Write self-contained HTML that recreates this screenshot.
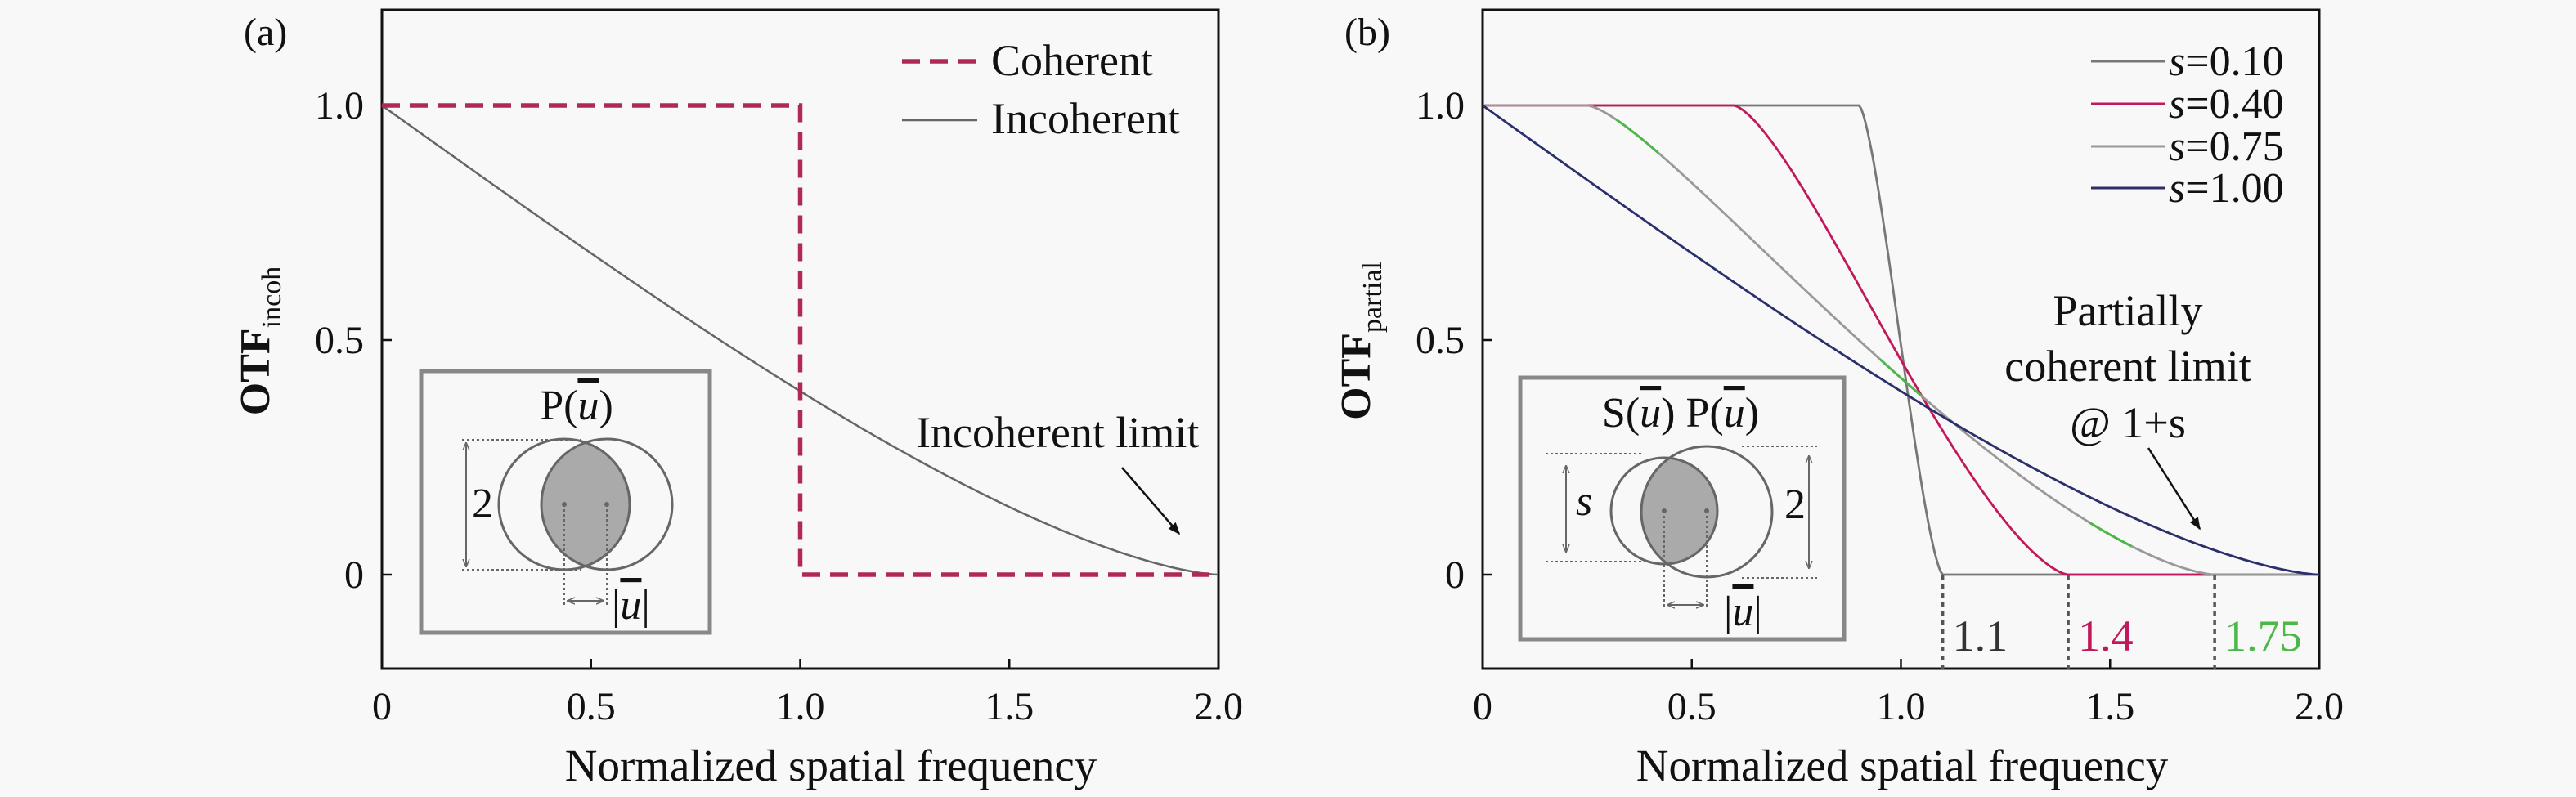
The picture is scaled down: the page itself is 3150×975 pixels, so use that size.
<!DOCTYPE html>
<html><head><meta charset="utf-8"><style>
html,body{margin:0;padding:0;background:#f8f8f8}
svg{display:block}
text{font-family:"Liberation Serif",serif;fill:#111}
</style></head><body>
<svg id="s" width="3150" height="975" viewBox="0 0 3150 975" xmlns="http://www.w3.org/2000/svg">
<defs>
<marker id="ah" viewBox="0 0 10 10" refX="9" refY="5" markerWidth="6" markerHeight="6" orient="auto"><path d="M0,1 L10,5 L0,9 z" fill="#111"/></marker>
<marker id="ga" viewBox="0 0 10 10" refX="9" refY="5" markerWidth="5" markerHeight="5" orient="auto-start-reverse"><path d="M0,1 L10,5 L0,9" fill="none" stroke="#666" stroke-width="1.5"/></marker>
</defs>
<rect width="3150" height="975" fill="#f8f8f8"/>
<g id="g"></g>
</svg>
<script>
const g=document.getElementById('g');let h='';
const Y=v=>703-574*v;
const U='<tspan font-style="italic" text-decoration="overline">u</tspan>';
function clipArea(r1,r2,d){
 if(d>=r1+r2)return 0;
 if(d<=Math.abs(r1-r2))return Math.PI*Math.min(r1,r2)**2;
 const a=r1*r1*Math.acos((d*d+r1*r1-r2*r2)/(2*d*r1));
 const b=r2*r2*Math.acos((d*d+r2*r2-r1*r1)/(2*d*r2));
 const c=0.5*Math.sqrt((-d+r1+r2)*(d+r1-r2)*(d-r1+r2)*(d+r1+r2));
 return a+b-c;}
function otf(s,f){return clipArea(s,1,f)/(Math.PI*s*s);}
function axes(x0,lab,sub,xl){
 const X=v=>x0+511.5*v;
 h+=`<rect x="${x0}" y="12" width="1023" height="806" fill="none" stroke="#111" stroke-width="3"/>`;
 [0,0.5,1,1.5,2].forEach(v=>{h+=`<line x1="${X(v)}" y1="818" x2="${X(v)}" y2="806" stroke="#111" stroke-width="2.5"/>`;
  h+=`<text x="${X(v)}" y="880" font-size="48" text-anchor="middle">${v==0?'0':v.toFixed(1)}</text>`;});
 [[0,'0'],[0.5,'0.5'],[1,'1.0']].forEach(([v,t])=>{h+=`<line x1="${x0}" y1="${Y(v)}" x2="${x0+12}" y2="${Y(v)}" stroke="#111" stroke-width="2.5"/>`;
  h+=`<text x="${x0-22}" y="${Y(v)+16}" font-size="48" text-anchor="end">${t}</text>`;});
 h+=`<text x="${xl}" y="955" font-size="55" text-anchor="middle">Normalized spatial frequency</text>`;
 h+=`<text transform="translate(${x0-138},417) rotate(-90)" font-size="52" text-anchor="middle" font-weight="bold">OTF<tspan font-size="34" dy="14" font-weight="normal">${sub}</tspan></text>`;
 h+=`<text x="${x0-169}" y="55" font-size="48">${lab}</text>`;
 return X;}
function curve(X,fn,a,b,col,w,extra=''){let p=[];for(let i=0;i<=400;i++){const f=a+(b-a)*i/400;p.push(X(f).toFixed(1)+','+Y(fn(f)).toFixed(1));}
 h+=`<polyline points="${p.join(' ')}" fill="none" stroke="${col}" stroke-width="${w}" ${extra}/>`;}
// Panel a
let X=axes(467,'(a)','incoh',1016);
curve(X,f=>otf(1,f),0,2,'#666',2.5);
h+=`<polyline points="${X(0)},${Y(1)} ${X(1)},${Y(1)} ${X(1)},${Y(0)} ${X(2)},${Y(0)}" fill="none" stroke="#b02858" stroke-width="5.5" stroke-dasharray="22,12"/>`;
h+=`<line x1="1103" y1="75" x2="1195" y2="75" stroke="#b02858" stroke-width="5.5" stroke-dasharray="22,12"/><text x="1212" y="92" font-size="54">Coherent</text>`;
h+=`<line x1="1103" y1="147" x2="1195" y2="147" stroke="#666" stroke-width="2.5"/><text x="1212" y="163" font-size="54">Incoherent</text>`;
h+=`<text x="1120" y="547" font-size="54">Incoherent limit</text><line x1="1372" y1="572" x2="1442" y2="653" stroke="#111" stroke-width="2.5" marker-end="url(#ah)"/>`;
// inset a
h+=`<rect x="515" y="454" width="353" height="320" fill="#f8f8f8" stroke="#888" stroke-width="5"/>`;
h+=`<clipPath id="c1"><circle cx="690" cy="617" r="80"/></clipPath><circle cx="742" cy="617" r="80" fill="#aaa" clip-path="url(#c1)"/>`;
h+=`<circle cx="690" cy="617" r="80" fill="none" stroke="#666" stroke-width="3"/><circle cx="742" cy="617" r="80" fill="none" stroke="#666" stroke-width="3"/>`;
h+=`<circle cx="690" cy="617" r="3" fill="#666"/><circle cx="742" cy="617" r="3" fill="#666"/>`;
h+=`<g stroke="#666" stroke-width="2" stroke-dasharray="3,3"><line x1="565" y1="538" x2="710" y2="538"/><line x1="565" y1="697" x2="710" y2="697"/><line x1="690" y1="617" x2="690" y2="740"/><line x1="742" y1="617" x2="742" y2="740"/></g>`;
h+=`<line x1="570" y1="542" x2="570" y2="693" stroke="#666" stroke-width="2" marker-start="url(#ga)" marker-end="url(#ga)"/>`;
h+=`<line x1="694" y1="735" x2="738" y2="735" stroke="#666" stroke-width="2" marker-start="url(#ga)" marker-end="url(#ga)"/>`;
h+=`<text x="577" y="633" font-size="52">2</text><text x="705" y="513" font-size="52" text-anchor="middle">P(${U})</text>`;
h+=`<text x="748" y="757" font-size="52">|${U}|</text>`;
// Panel b
X=axes(1813,'(b)','partial',2326);
const S=[[0.10,'#777'],[0.40,'#c2185b'],[0.75,'#999'],[1.00,'#2b2f6b']];
S.forEach(([s,c])=>curve(X,f=>otf(s,f),0,2,c,2.8));
[[0.32,0.42],[0.95,1.05],[1.45,1.55]].forEach(([a,b])=>curve(X,f=>otf(0.75,f),a,b,'#4cb848',2.8));
S.forEach(([s,c],i)=>{const y=[75,127,179,230][i];h+=`<line x1="2557" y1="${y}" x2="2647" y2="${y}" stroke="${c}" stroke-width="3"/><text x="2652" y="${y+17}" font-size="52"><tspan font-style="italic">s</tspan>=${s.toFixed(2)}</text>`;});
h+=`<text x="2602" y="398" font-size="54" text-anchor="middle">Partially</text><text x="2602" y="466" font-size="54" text-anchor="middle">coherent limit</text><text x="2602" y="535" font-size="54" text-anchor="middle">@ 1+s</text>`;
h+=`<line x1="2627" y1="548" x2="2690" y2="647" stroke="#111" stroke-width="2.5" marker-end="url(#ah)"/>`;
[[1.1,'#333'],[1.4,'#c2185b'],[1.75,'#4cb848']].forEach(([f,c])=>{h+=`<line x1="${X(f)}" y1="703" x2="${X(f)}" y2="818" stroke="#555" stroke-width="3.5" stroke-dasharray="6,5"/><text x="${X(f)+12}" y="796" font-size="54" style="fill:${c}">${f}</text>`;});
// inset b
h+=`<rect x="1859" y="462" width="396" height="320" fill="#f8f8f8" stroke="#888" stroke-width="5"/>`;
h+=`<clipPath id="c2"><circle cx="2035" cy="625" r="65"/></clipPath><circle cx="2087" cy="626" r="80" fill="#aaa" clip-path="url(#c2)"/>`;
h+=`<circle cx="2035" cy="625" r="65" fill="none" stroke="#666" stroke-width="3"/><circle cx="2087" cy="626" r="80" fill="none" stroke="#666" stroke-width="3"/>`;
h+=`<circle cx="2035" cy="625" r="3" fill="#666"/><circle cx="2087" cy="625" r="3" fill="#666"/>`;
h+=`<g stroke="#666" stroke-width="2" stroke-dasharray="3,3"><line x1="1890" y1="555" x2="2010" y2="555"/><line x1="1890" y1="687" x2="2010" y2="687"/><line x1="2130" y1="546" x2="2222" y2="546"/><line x1="2130" y1="707" x2="2222" y2="707"/><line x1="2035" y1="625" x2="2035" y2="742"/><line x1="2087" y1="625" x2="2087" y2="742"/></g>`;
h+=`<line x1="1915" y1="570" x2="1915" y2="675" stroke="#666" stroke-width="2" marker-start="url(#ga)" marker-end="url(#ga)"/>`;
h+=`<line x1="2212" y1="558" x2="2212" y2="695" stroke="#666" stroke-width="2" marker-start="url(#ga)" marker-end="url(#ga)"/>`;
h+=`<line x1="2039" y1="740" x2="2083" y2="740" stroke="#666" stroke-width="2" marker-start="url(#ga)" marker-end="url(#ga)"/>`;
h+=`<text x="1927" y="630" font-size="52" font-style="italic">s</text><text x="2182" y="634" font-size="52">2</text>`;
h+=`<text x="2055" y="522" font-size="52" text-anchor="middle">S(${U}) P(${U})</text>`;
h+=`<text x="2108" y="765" font-size="52">|${U}|</text>`;
g.innerHTML=h;
</script>
</body></html>
